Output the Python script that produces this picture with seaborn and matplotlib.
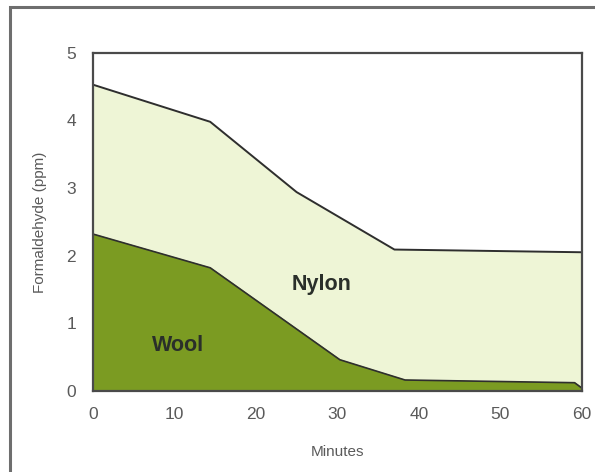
import matplotlib
matplotlib.use("Agg")
import matplotlib.pyplot as plt
import pandas as pd
import seaborn as sns
from matplotlib.patches import Rectangle

# values
nylon_minutes = [0, 14.4, 25, 37, 60]
nylon_ppm = [4.53, 3.98, 2.94, 2.09, 2.05]
wool_minutes = [0, 14.4, 30.3, 38.3, 59.1, 60]
wool_ppm = [2.32, 1.82, 0.46, 0.16, 0.12, 0.04]
x_ticks = [0, 10, 20, 30, 40, 50, 60]
y_ticks = [0, 1, 2, 3, 4, 5]

NYLON_FILL = "#eef5d6"
WOOL_FILL = "#7b9b22"
EDGE = "#2e2e2e"
TICK_GREY = "#5a5a5a"

sns.set_theme(style="white")
plt.rcParams["font.family"] = ["Liberation Sans", "DejaVu Sans"]

nylon = pd.DataFrame({"minutes": nylon_minutes, "ppm": nylon_ppm})
wool = pd.DataFrame({"minutes": wool_minutes, "ppm": wool_ppm})

fig = plt.figure(figsize=(5.95, 4.72), dpi=100)
ax = fig.add_axes([0.156, 0.172, 0.822, 0.716])

# outer frame of the scanned figure, runs off the right and bottom edges
fig.patches.append(Rectangle((10 / 595, -0.05), 1.1, 1.05 - 7 / 472,
                             transform=fig.transFigure, fill=False,
                             edgecolor="#6e6e6e", linewidth=2.2))

ax.fill_between(nylon["minutes"], nylon["ppm"], color=NYLON_FILL, zorder=1)
ax.fill_between(wool["minutes"], wool["ppm"], color=WOOL_FILL, zorder=2)
sns.lineplot(data=nylon, x="minutes", y="ppm", ax=ax, color=EDGE, linewidth=1.4, zorder=3)
sns.lineplot(data=wool, x="minutes", y="ppm", ax=ax, color=EDGE, linewidth=1.2, zorder=3)

ax.text(10.4, 0.67, "Wool", ha="center", va="center", fontsize=15.5,
        fontweight="bold", color="#2a2f2a", zorder=4)
ax.text(28.1, 1.58, "Nylon", ha="center", va="center", fontsize=15.5,
        fontweight="bold", color="#2a2f2a", zorder=4)

ax.set_xlim(0, 60)
ax.set_ylim(0, 5)
ax.set_xticks(x_ticks)
ax.set_yticks(y_ticks)
ax.tick_params(axis="both", length=0, labelsize=12.5, colors=TICK_GREY, pad=12)
ax.set_xlabel("Minutes", fontsize=11, color=TICK_GREY, labelpad=16)
ax.set_ylabel("Formaldehyde (ppm)", fontsize=11, color=TICK_GREY, labelpad=14)
for side in ["left", "right", "top", "bottom"]:
    ax.spines[side].set_color("#4a4a4a")
    ax.spines[side].set_linewidth(1.6)
    ax.spines[side].set_zorder(5)

fig.savefig("out.png", dpi=100)
